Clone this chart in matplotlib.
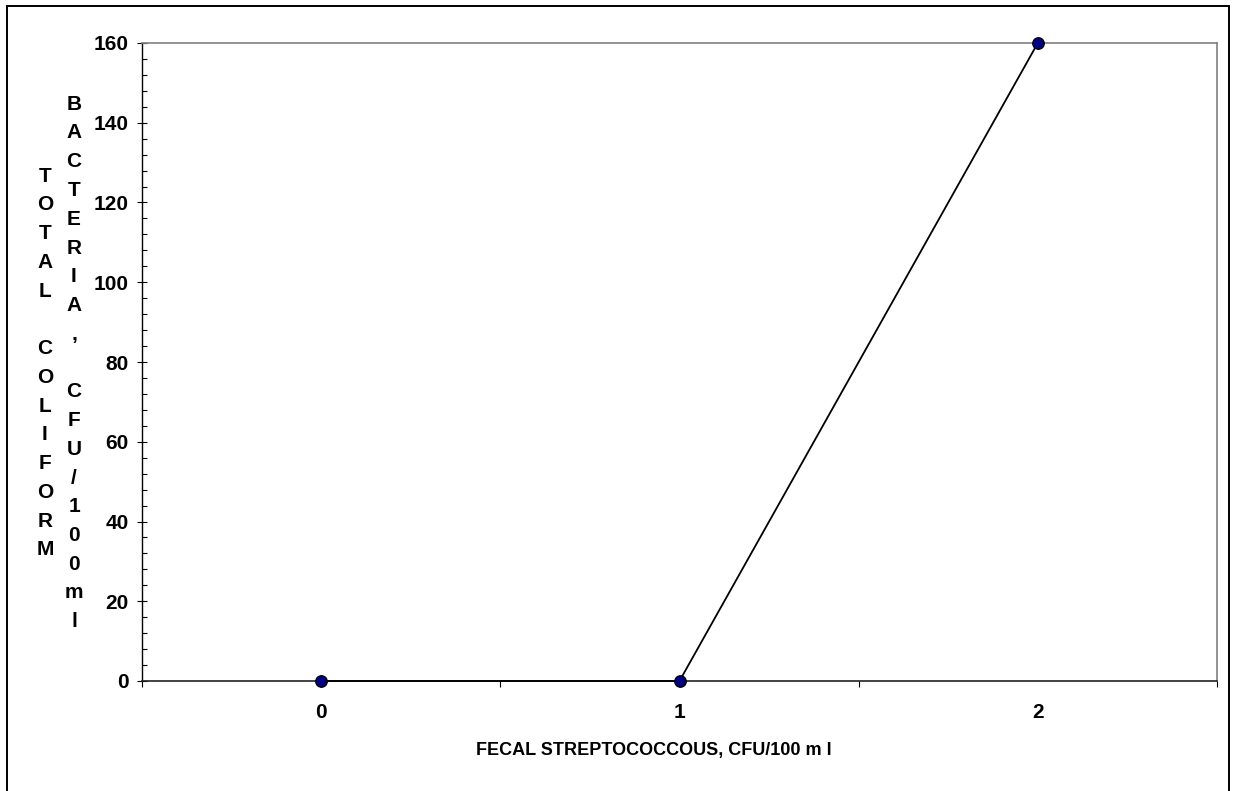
import matplotlib
matplotlib.use("Agg")
import matplotlib.pyplot as plt
from matplotlib.patches import Rectangle
from matplotlib.ticker import FixedLocator, MultipleLocator

categories = ["0", "1", "2"]
values = [0, 0, 160]
y_ticks = [0, 20, 40, 60, 80, 100, 120, 140, 160]
x_title = "FECAL STREPTOCOCCOUS, CFU/100 m l"
y_title_1 = "TOTAL COLIFORM"
y_title_2 = "BACTERIA, CFU/100ml"

plt.rcParams['font.family'] = ['Liberation Sans', 'DejaVu Sans']
plt.rcParams['font.weight'] = 'bold'

W, H = 1235, 791
fig = plt.figure(figsize=(W / 100, H / 100), dpi=100)
ax = fig.add_axes([142 / W, 1 - 681 / H, (1217 - 142) / W, (681 - 43) / H])

xs = list(range(len(categories)))
ax.plot(xs, values, color='black', lw=1.3, marker='o', ms=8.3,
        mfc='#000080', mec='black', mew=0.9, zorder=5, clip_on=False)

ax.set_xlim(-0.5, len(categories) - 0.5)
ax.set_ylim(0, 160)

# category axis: ticks at boundaries, labels at centres
ax.xaxis.set_major_locator(FixedLocator([i - 0.5 for i in range(len(categories) + 1)]))
ax.xaxis.set_minor_locator(FixedLocator(xs))
ax.set_xticklabels([])
ax.set_xticklabels(categories, minor=True)
ax.tick_params(axis='x', which='major', direction='out', length=4.3, width=0.8, color='black')
ax.tick_params(axis='x', which='minor', length=0, pad=16, labelsize=15)

ax.set_yticks(y_ticks)
ax.yaxis.set_minor_locator(MultipleLocator(4))
ax.tick_params(axis='y', which='major', direction='inout', length=7.5, width=0.8,
               color='black', labelsize=15, pad=6)
ax.tick_params(axis='y', which='minor', direction='in', length=3.6, width=0.8, color='black')

for lbl in ax.get_xticklabels(minor=True) + ax.get_yticklabels():
    lbl.set_fontweight('bold')

ax.spines['top'].set_color('#808080')
ax.spines['right'].set_color('#808080')
ax.spines['top'].set_linewidth(1.2)
ax.spines['right'].set_linewidth(1.2)
ax.spines['left'].set_color('black')
ax.spines['bottom'].set_color('#222222')
ax.spines['left'].set_linewidth(1.0)
ax.spines['bottom'].set_linewidth(1.2)

# x-axis title
fig.text(654 / W, 1 - 750 / H, x_title, ha='center', va='center',
         fontsize=13, fontweight='bold')

# stacked y-axis title
fig.text(45 / W, 1 - 363 / H, "\n".join(y_title_1), ha='center', va='center',
         ma='center', fontsize=15, fontweight='bold', linespacing=1.65)
fig.text(74 / W, 1 - 363 / H, "\n".join(y_title_2), ha='center', va='center',
         ma='center', fontsize=15, fontweight='bold', linespacing=1.65)

# outer chart frame
fig.patches.append(Rectangle((7 / W, -0.02), (1229 - 7) / W, (H - 6) / H + 0.02,
                             transform=fig.transFigure, fill=False,
                             edgecolor='black', lw=1.4))

fig.savefig("out.png", dpi=100)
